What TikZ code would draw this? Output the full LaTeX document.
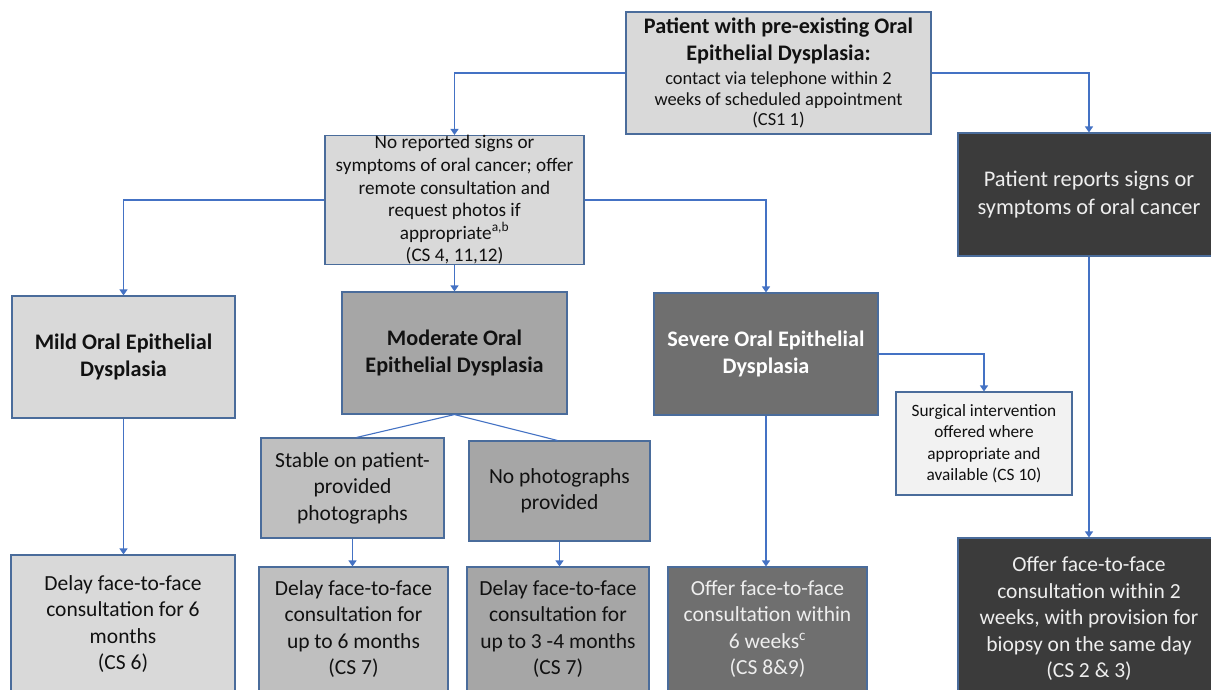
\documentclass[tikz,border=0pt]{standalone}
\usepackage{fontspec}
\setmainfont{Carlito}
\usetikzlibrary{arrows.meta}
\definecolor{bordc}{HTML}{4A6C9B}
\definecolor{connc}{HTML}{4472C4}
\definecolor{lightg}{HTML}{D9D9D9}
\definecolor{modg}{HTML}{A6A6A6}
\definecolor{stabg}{HTML}{BFBFBF}
\definecolor{sevg}{HTML}{6F6F6F}
\definecolor{surgg}{HTML}{F2F2F2}
\definecolor{darkg}{HTML}{3B3B3B}
\definecolor{txtd}{HTML}{111111}
\definecolor{txtl}{HTML}{EEEEEE}
\tikzset{
  box/.style={draw=bordc, line width=1.1pt, rectangle, inner sep=0pt, align=center, text=txtd},
  conn/.style={draw=connc, line width=1.1pt, -{Triangle[width=8pt,length=6pt]}},
  plain/.style={draw=connc, line width=1.1pt},
  lbl/.style={font=\fontsize{22.2}{27}\selectfont\bfseries},
  big/.style={font=\fontsize{21.5}{26.5}\selectfont},
}
\begin{document}
\begin{tikzpicture}[x=1pt,y=-1pt]
\useasboundingbox (0,0) rectangle (1211,689);
\clip (0,0) rectangle (1211,689);
\fill[white] (0,0) rectangle (1211,689);

% top box
\node[box, fill=lightg, minimum width=305pt, minimum height=122pt,
  font=\fontsize{18.4}{20.5}\selectfont] (top) at (778.5,73)
  {{\fontsize{22.2}{27}\selectfont\bfseries Patient with pre-existing Oral}\\[6pt]
   {\fontsize{22.2}{27}\selectfont\bfseries Epithelial Dysplasia:}\\[4pt]
   contact via telephone within 2\\
   weeks of scheduled appointment\\
   (CS1 1)};

% second box
\node[box, fill=lightg, minimum width=259pt, minimum height=128pt,
  font=\fontsize{19.2}{22.6}\selectfont] (nosig) at (454.5,200)
  {No reported signs or\\
   symptoms of oral cancer; offer\\
   remote consultation and\\
   request photos if\\
   appropriate\textsuperscript{a,b}\\
   (CS 4, 11,12)};

% dark box right
\node[box, fill=darkg, text=txtl, minimum width=262pt, minimum height=123pt,
  font=\fontsize{22.4}{28}\selectfont] (reports) at (1089,194.5)
  {Patient reports signs or\\symptoms of oral cancer};

% severity boxes
\node[box, lbl, fill=lightg, minimum width=223pt, minimum height=122pt] (mild) at (123.5,357)
  {Mild Oral Epithelial\\Dysplasia};
\node[box, lbl, fill=modg, minimum width=225pt, minimum height=122pt] (mod) at (454.5,353)
  {Moderate Oral\\Epithelial Dysplasia};
\node[box, lbl, fill=sevg, text=white, minimum width=224pt, minimum height=122pt] (sev) at (766,354)
  {Severe Oral Epithelial\\Dysplasia};

% surgical
\node[box, fill=surgg, minimum width=176pt, minimum height=103pt,
  font=\fontsize{17.3}{21.5}\selectfont] (surg) at (984,443.5)
  {Surgical intervention\\offered where\\appropriate and\\available (CS 10)};

% moderate sub-boxes
\node[box, big, fill=stabg, minimum width=183pt, minimum height=100pt] (stable) at (352.5,488)
  {Stable on patient-\\provided\\photographs};
\node[box, big, fill=modg, minimum width=181pt, minimum height=100pt] (nophoto) at (559.5,491)
  {No photographs\\provided};

% bottom boxes
\node[box, big, fill=lightg, minimum width=224pt, minimum height=138pt] (delay1) at (123,624)
  {Delay face-to-face\\consultation for 6\\months\\(CS 6)};
\node[box, big, fill=stabg, minimum width=189pt, minimum height=124pt] (delay2) at (353.5,629)
  {Delay face-to-face\\consultation for\\up to 6 months\\(CS 7)};
\node[box, big, fill=modg, minimum width=182pt, minimum height=124pt] (delay3) at (558,629)
  {Delay face-to-face\\consultation for\\up to 3 -4 months\\(CS 7)};
\node[box, big, fill=sevg, text=txtl, minimum width=199pt, minimum height=124pt] (offer6) at (767.5,629)
  {Offer face-to-face\\consultation within\\6 weeks\textsuperscript{c}\\(CS 8\&9)};
\node[box, big, fill=darkg, text=txtl, minimum width=262pt, minimum height=162pt] (offer2) at (1089,619)
  {Offer face-to-face\\consultation within 2\\weeks, with provision for\\biopsy on the same day\\(CS 2 \& 3)};

% connectors
\draw[conn] (top.west) -| (nosig.north);
\draw[conn] (top.east) -| (reports.north);
\draw[conn] (nosig.west) -| (mild.north);
\draw[conn] (nosig.east) -| (sev.north);
\draw[conn] (nosig.south) -- (mod.north);
\draw[conn] (sev.east) -| (surg.north);
\draw[conn] (sev.south) -- (sev.south |- offer6.north);
\draw[conn] (reports.south) -- (offer2.north);
\draw[conn] (mild.south) -- (mild.south |- delay1.north);
\draw[plain] (mod.south) -- ([xshift=4pt]stable.north);
\draw[plain] (mod.south) -- ([xshift=-2pt]nophoto.north);
\draw[conn] (stable.south) -- (stable.south |- delay2.north);
\draw[conn] (nophoto.south) -- (nophoto.south |- delay3.north);
\end{tikzpicture}
\end{document}
